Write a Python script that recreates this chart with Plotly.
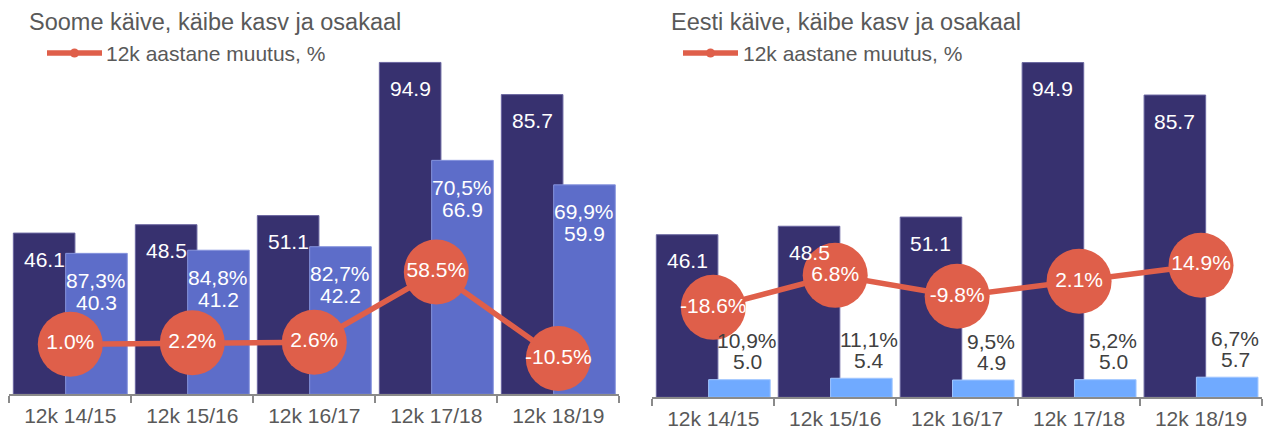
import plotly.graph_objects as go
from plotly.subplots import make_subplots

# ---------------- data ----------------
categories = ["12k 14/15", "12k 15/16", "12k 16/17", "12k 17/18", "12k 18/19"]
total_turnover = [46.1, 48.5, 51.1, 94.9, 85.7]
fin_turnover = [40.3, 41.2, 42.2, 66.9, 59.9]
fin_share = [87.3, 84.8, 82.7, 70.5, 69.9]
fin_growth = [1.0, 2.2, 2.6, 58.5, -10.5]
est_turnover = [5.0, 5.4, 4.9, 5.0, 5.7]
est_share = [10.9, 11.1, 9.5, 5.2, 6.7]
est_growth = [-18.6, 6.8, -9.8, 2.1, 14.9]

title_left = "Soome käive, käibe kasv ja osakaal"
title_right = "Eesti käive, käibe kasv ja osakaal"
legend_label = "12k aastane muutus, %"

# ---------------- style ----------------
FONT = "Liberation Sans, Arial, sans-serif"
DARK = "#37316f"
LIGHT_L = "#5d6dc9"
LIGHT_R = "#70aaff"
LINE = "#df5f4a"
GREY = "#595959"
AXIS = "#8a8a8a"
W = 0.505
DARK_OFF = -0.467
LIGHT_OFF = -0.038
DC = DARK_OFF + W / 2
LC = LIGHT_OFF + W / 2
FS = 21

W_PX, H_PX = 1264, 430

fig = make_subplots(rows=1, cols=2, specs=[[{"secondary_y": True}, {"secondary_y": True}]])


def pct(v):
    return f"{v:.1f}".replace(".", ",") + "%"


def add_panel(col, light_vals, light_color, light_border, growth):
    fig.add_trace(go.Bar(x=categories, y=total_turnover, width=W, offset=DARK_OFF,
                         marker=dict(color=DARK, line=dict(color="#6a66a0", width=1)),
                         showlegend=False, hoverinfo="skip"),
                  row=1, col=col, secondary_y=False)
    fig.add_trace(go.Bar(x=categories, y=light_vals, width=W, offset=LIGHT_OFF,
                         marker=dict(color=light_color, line=dict(color=light_border, width=1)),
                         showlegend=False, hoverinfo="skip"),
                  row=1, col=col, secondary_y=False)
    fig.add_trace(go.Scatter(x=categories, y=growth, mode="lines+markers+text",
                             line=dict(color=LINE, width=5.5),
                             marker=dict(color=LINE, size=65),
                             text=[f"{g:.1f}%" for g in growth],
                             textposition="middle center",
                             textfont=dict(color="white", size=FS, family=FONT),
                             showlegend=False, hoverinfo="skip"),
                  row=1, col=col, secondary_y=True)


add_panel(1, fin_turnover, LIGHT_L, "#8593dd", fin_growth)
add_panel(2, est_turnover, LIGHT_R, "#a0c6ff", est_growth)

ann = []
# dark bar labels (inside top, white)
for xref, yref in (("x", "y"), ("x2", "y3")):
    for i, v in enumerate(total_turnover):
        ann.append(dict(x=i + DC, y=v, xref=xref, yref=yref, text=f"{v:.1f}",
                        showarrow=False, yanchor="middle", yshift=-26,
                        font=dict(color="white", size=FS, family=FONT)))
# left light bar labels (inside, white)
for i, (v, s) in enumerate(zip(fin_turnover, fin_share)):
    ann.append(dict(x=i + LC, y=v, xref="x", yref="y", text=pct(s), showarrow=False,
                    yanchor="middle", yshift=-27, font=dict(color="white", size=FS, family=FONT)))
    ann.append(dict(x=i + LC, y=v, xref="x", yref="y", text=f"{v:.1f}", showarrow=False,
                    yanchor="middle", yshift=-49, font=dict(color="white", size=FS, family=FONT)))
# right light bar labels (above, grey)
for i, (v, s) in enumerate(zip(est_turnover, est_share)):
    ann.append(dict(x=i + LC, y=v, xref="x2", yref="y3", text=pct(s), showarrow=False,
                    yanchor="middle", yshift=39, xshift=8,
                    font=dict(color="#404040", size=FS, family=FONT)))
    ann.append(dict(x=i + LC, y=v, xref="x2", yref="y3", text=f"{v:.1f}", showarrow=False,
                    yanchor="middle", yshift=18, xshift=8,
                    font=dict(color="#404040", size=FS, family=FONT)))

# titles
for x0, t in ((27, title_left), (669, title_right)):
    ann.append(dict(x=x0 / W_PX, y=1 - 22 / H_PX, xref="paper", yref="paper", text=t,
                    showarrow=False, xanchor="left", yanchor="middle",
                    font=dict(color=GREY, size=23.5, family=FONT)))

# legends (manual)
shapes = []
for lx0, lx1, tx in ((47, 102, 105), (683, 738, 742)):
    ly = 1 - 53 / H_PX
    shapes.append(dict(type="line", xref="paper", yref="paper", x0=lx0 / W_PX, x1=lx1 / W_PX,
                       y0=ly, y1=ly, line=dict(color=LINE, width=5.5)))
    cx = (lx0 + lx1) / 2
    shapes.append(dict(type="circle", xref="paper", yref="paper",
                       x0=(cx - 4.5) / W_PX, x1=(cx + 4.5) / W_PX,
                       y0=ly - 4.5 / H_PX, y1=ly + 4.5 / H_PX,
                       fillcolor=LINE, line=dict(width=0)))
    ann.append(dict(x=tx / W_PX, y=ly, xref="paper", yref="paper", text=legend_label,
                    showarrow=False, xanchor="left", yanchor="middle", borderpad=0,
                    font=dict(color=GREY, size=FS, family=FONT)))

xcommon = dict(type="category", range=[-0.5, 4.5], showline=True, linecolor=AXIS, linewidth=2,
               ticks="outside", tickson="boundaries", ticklen=7, tickcolor=AXIS, tickwidth=2,
               ticklabelstandoff=1, automargin=False,
               showgrid=False, tickfont=dict(color=GREY, size=FS, family=FONT))
ycommon = dict(visible=False, showgrid=False, zeroline=False, automargin=False)

fig.update_layout(
    width=W_PX, height=H_PX,
    margin=dict(l=0, r=0, t=0, b=0, autoexpand=False),
    paper_bgcolor="white", plot_bgcolor="white",
    barmode="overlay", showlegend=False,
    font=dict(family=FONT, color=GREY),
    xaxis=dict(domain=[9.3 / W_PX, 619.3 / W_PX], **xcommon),
    xaxis2=dict(domain=[652.3 / W_PX, 1262 / W_PX], **xcommon),
    yaxis=dict(domain=[(H_PX - 394.3) / H_PX, (H_PX - 44.6) / H_PX], range=[0, 100], **ycommon),
    yaxis2=dict(range=[-39, 240], **ycommon),
    yaxis3=dict(domain=[(H_PX - 397.3) / H_PX, (H_PX - 44.6) / H_PX], range=[0, 100], **ycommon),
    yaxis4=dict(range=[-90, 190], **ycommon),
    annotations=ann, shapes=shapes,
)

fig.write_html("out.html", config={"displayModeBar": False},
               post_script="document.body.style.margin='0';")
